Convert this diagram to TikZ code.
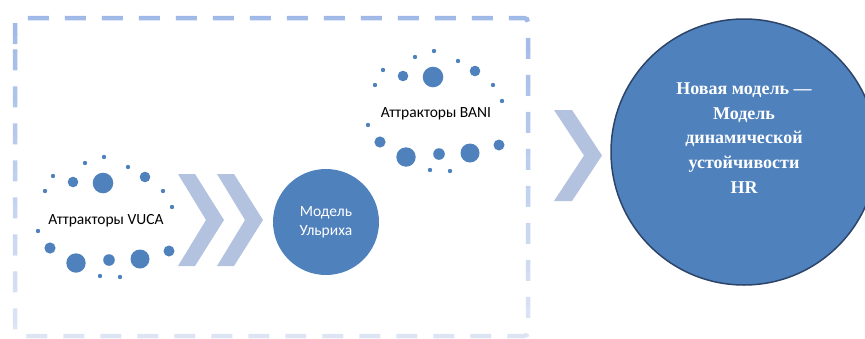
\documentclass[tikz,border=0pt]{standalone}
\usepackage{fontspec}
\setmainfont{Liberation Serif}
\newfontfamily\carlito{Carlito}
\definecolor{dotblue}{RGB}{79,129,189}
\definecolor{chev}{RGB}{179,194,222}
\definecolor{rimdark}{RGB}{44,68,104}
\definecolor{dashtop}{RGB}{157,183,230}
\definecolor{dashbot}{RGB}{221,229,245}
\tikzset{
  framedash/.style={line width=4.5pt, dash pattern=on 21pt off 16pt, dash phase=0pt, rounded corners=4pt},
  chevshape/.style={fill=chev},
  dotshape/.style={fill=dotblue},
  sanslabel/.style={font=\carlito\fontsize{15.5}{19}\selectfont, inner sep=0pt},
  hrtext/.style={font=\fontsize{18}{24.8}\selectfont\bfseries, text=white, align=center, inner sep=0pt}
}
\newcommand\attdots{%
  \foreach \x/\y/\r in {104/157/2.2, 85/163/2.2, 128/167/2.2, 53/176/2.2,
      73/182/5.3, 103/183/10.3, 145/177/5.3, 45/191/2.2, 163/191/2.2,
      172/207/2.2, 38/231/2.2, 50/248/5.6, 76/263/9.7, 109/260/5.8,
      140/259/9.5, 169/251/5.5, 100/276/2.2, 120/277/2.2}{
    \fill[dotshape] (\x,\y) circle[radius=\r];}%
}
\begin{document}
\begin{tikzpicture}[x=1pt,y=-1pt]
\useasboundingbox (0,0) rectangle (865,338);
\clip (0,0) rectangle (865,338);
% gradient dashed frame
\foreach \i in {0,...,19}{
  \pgfmathtruncatemacro\pct{100-100*\i/19}
  \begin{scope}
    \clip (0,{\i*17}) rectangle (865,{(\i+1)*17});
    \draw[framedash, color=dashtop!\pct!dashbot] (15,44) -- (15,18) -- (528,18) -- (528,336) -- (15,336) -- (15,44);
  \end{scope}
}
% attractor dots
\attdots
\begin{scope}[shift={(330,-106)}]
  \attdots
\end{scope}
\node[sanslabel] (vuca) at (106,221) {Аттракторы VUCA};
\node[sanslabel] (bani) at (436,114) {Аттракторы BANI};
% chevrons
\fill[chevshape] (178,174) -- (195,174) -- (224,220) -- (195,266) -- (178,266) -- (206,220) -- cycle;
\fill[chevshape] (217,174) -- (234,174) -- (263,220) -- (234,266) -- (217,266) -- (245,220) -- cycle;
\fill[chevshape] (554,110) -- (572,110) -- (602,155.5) -- (572,201) -- (554,201) -- (584,155.5) -- cycle;
% Ulrich circle
\node[circle, fill=dotblue, minimum size=106pt, inner sep=0pt, text=white, align=center,
      font=\carlito\fontsize{15.5}{19}\selectfont] (ulr) at (326,222) {Модель\\Ульриха};
% big circle
\node[circle, fill=dotblue, draw=rimdark, line width=1.5pt, minimum size=266pt, inner sep=0pt] (hr) at (744,152) {};
\node[hrtext] (hrt) at (744,138) {Новая модель —\\Модель\\динамической\\устойчивости\\HR};
\end{tikzpicture}
\end{document}
